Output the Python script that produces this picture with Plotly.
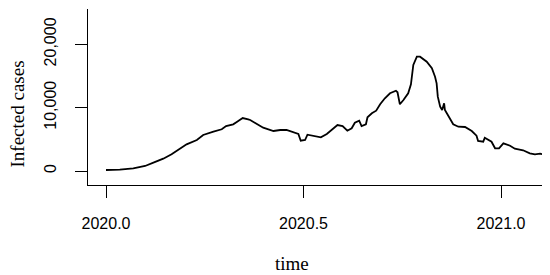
import plotly.graph_objects as go

# time in fractional years
time = [
    2020.000, 2020.035, 2020.069, 2020.099, 2020.120, 2020.145, 2020.166, 2020.187,
    2020.204, 2020.230, 2020.246, 2020.272, 2020.293, 2020.304, 2020.322, 2020.332,
    2020.346, 2020.360, 2020.365, 2020.382, 2020.398, 2020.424, 2020.441, 2020.457,
    2020.474, 2020.487, 2020.493, 2020.504, 2020.510, 2020.525, 2020.544, 2020.559,
    2020.571, 2020.586, 2020.599, 2020.611, 2020.622, 2020.630, 2020.641, 2020.647,
    2020.658, 2020.662, 2020.673, 2020.684, 2020.694, 2020.706, 2020.719, 2020.734,
    2020.738, 2020.744, 2020.753, 2020.765, 2020.772, 2020.778, 2020.787, 2020.795,
    2020.812, 2020.825, 2020.833, 2020.837, 2020.840, 2020.846, 2020.851, 2020.856,
    2020.858, 2020.867, 2020.879, 2020.892, 2020.909, 2020.926, 2020.938, 2020.942,
    2020.955, 2020.959, 2020.976, 2020.985, 2020.995, 2021.006, 2021.023, 2021.035,
    2021.056, 2021.073, 2021.086, 2021.099, 2021.107,
]
infected = [
    160, 205, 426, 789, 1310, 1942, 2636, 3583,
    4215, 4893, 5683, 6204, 6582, 7103, 7372, 7782,
    8366, 8161, 8050, 7419, 6835, 6314, 6472, 6472,
    6046, 5840, 4783, 4893, 5730, 5572, 5320, 5840,
    6472, 7261, 7103, 6361, 6740, 7624, 7940, 7103,
    7372, 8477, 9108, 9518, 10528, 11476, 12265, 12675,
    12423, 10528, 11207, 12265, 13686, 16732, 18042, 18042,
    17253, 16211, 14885, 13843, 11728, 10150, 9629, 10686,
    9629, 8571, 7372, 6993, 6945, 6314, 5572, 4736,
    4625, 5256, 4625, 3583, 3583, 4372, 3994, 3520,
    3267, 2794, 2636, 2730, 2636,
]

x_ticks = [2020.0, 2020.5, 2021.0]
x_labels = ["2020.0", "2020.5", "2021.0"]
y_ticks = [0, 10000, 20000]
y_labels = ["0", "10,000", "20,000"]

sans = "Liberation Sans, Arial, sans-serif"
serif = "Liberation Serif, Times New Roman, serif"

fig = go.Figure()
fig.add_trace(go.Scatter(x=time, y=infected, mode="lines",
                         line=dict(color="black", width=1.8), showlegend=False))

# the page body has an 8px margin, so the figure is 8px smaller than the window
fig.update_layout(
    width=542, height=267,
    margin=dict(l=80, r=5, t=1, b=90, autoexpand=False),
    paper_bgcolor="white", plot_bgcolor="white",
    xaxis=dict(range=[2019.9544, 2021.1114], tickvals=x_ticks, ticktext=x_labels,
               showgrid=False, zeroline=False, showline=True, linecolor="black",
               linewidth=1.3, ticks="outside", ticklen=12, tickwidth=1.3,
               tickcolor="black", ticklabelstandoff=12,
               tickfont=dict(family=sans, size=16, color="black")),
    yaxis=dict(range=[-2210, 25572], tickvals=y_ticks, ticktext=y_labels,
               showgrid=False, zeroline=False, showline=True, linecolor="black",
               linewidth=1.3, ticks="outside", ticklen=12, tickwidth=1.3,
               tickcolor="black", tickangle=-90, ticklabelstandoff=12,
               tickfont=dict(family=sans, size=16, color="black")),
    annotations=[
        dict(text="time", xref="paper", yref="paper", x=0.446, y=-0.446,
             xanchor="center", yanchor="middle", showarrow=False,
             font=dict(family=serif, size=19, color="black")),
        dict(text="Infected cases", xref="paper", yref="paper", x=-0.1554, y=0.406,
             xanchor="center", yanchor="middle", textangle=-90, showarrow=False,
             height=18, borderpad=0,
             font=dict(family=serif, size=19, color="black")),
    ],
)

fig.write_html("out.html")
